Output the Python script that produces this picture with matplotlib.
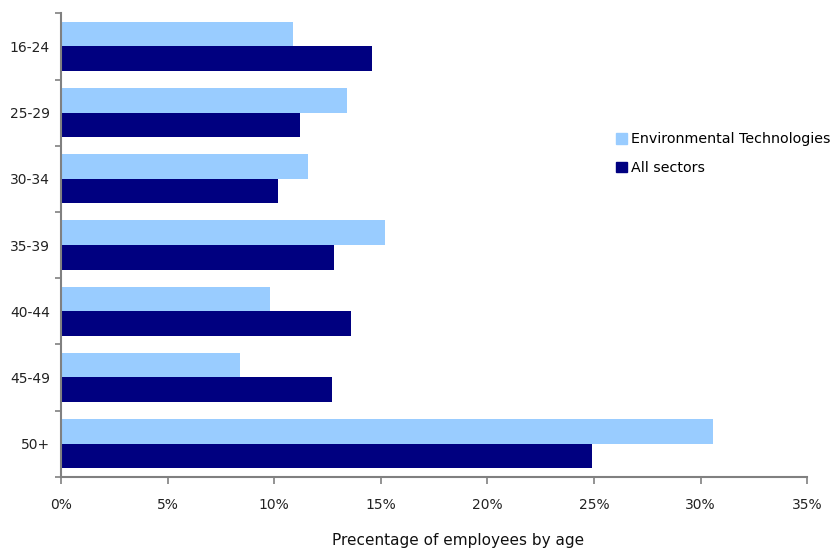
import matplotlib.pyplot as plt
import numpy as np
from matplotlib.patches import Patch

# share of employees per age band (%)
age_groups = ["16-24", "25-29", "30-34", "35-39", "40-44", "45-49", "50+"]
env_tech = [10.9, 13.4, 11.6, 15.2, 9.8, 8.4, 30.6]
all_sectors = [14.6, 11.2, 10.2, 12.8, 13.6, 12.7, 24.9]

light = "#99ccff"
dark = "#000080"
grey = "#808080"

fig = plt.figure(figsize=(8.33, 5.52), dpi=100)
ax = fig.add_axes([0.0732, 0.1364, 0.8958, 0.8395])

y = np.arange(len(age_groups))
h = 0.373
ax.barh(y - h / 2, env_tech, height=h, color=light, label="Environmental Technologies")
ax.barh(y + h / 2, all_sectors, height=h, color=dark, label="All sectors")

ax.set_ylim(len(age_groups) - 0.5, -0.5)
ax.set_xlim(0, 35)

# category labels in the middle, ticks on the boundaries
ax.set_yticks(y)
ax.set_yticklabels(age_groups, fontsize=10, color="#222222")
ax.tick_params(axis="y", length=0, pad=8)
ax.set_yticks(np.arange(len(age_groups) + 1) - 0.5, minor=True)
ax.tick_params(axis="y", which="minor", length=4, color=grey, width=1.2)

ax.set_xticks(np.arange(0, 36, 5))
ax.set_xticklabels([f"{v}%" for v in range(0, 36, 5)], fontsize=10, color="#222222")
ax.tick_params(axis="x", length=5, color=grey, width=1.2, pad=10)

for s in ["top", "right"]:
    ax.spines[s].set_visible(False)
for s in ["left", "bottom"]:
    ax.spines[s].set_color(grey)
    ax.spines[s].set_linewidth(1.5)

fig.text(0.55, 0.02, "Precentage of employees by age", ha="center", va="center",
         fontsize=11, fontweight="normal", color="#111111")

handles = [Patch(color=light), Patch(color=dark)]
fig.legend(handles, ["Environmental Technologies", "All sectors"],
           loc="upper left", bbox_to_anchor=(0.740, 0.760), frameon=False,
           fontsize=10.3, handlelength=0.75, handleheight=0.75, handletextpad=0.3,
           labelspacing=1.0, borderaxespad=0, borderpad=0)

fig.savefig("out.png", dpi=100)
